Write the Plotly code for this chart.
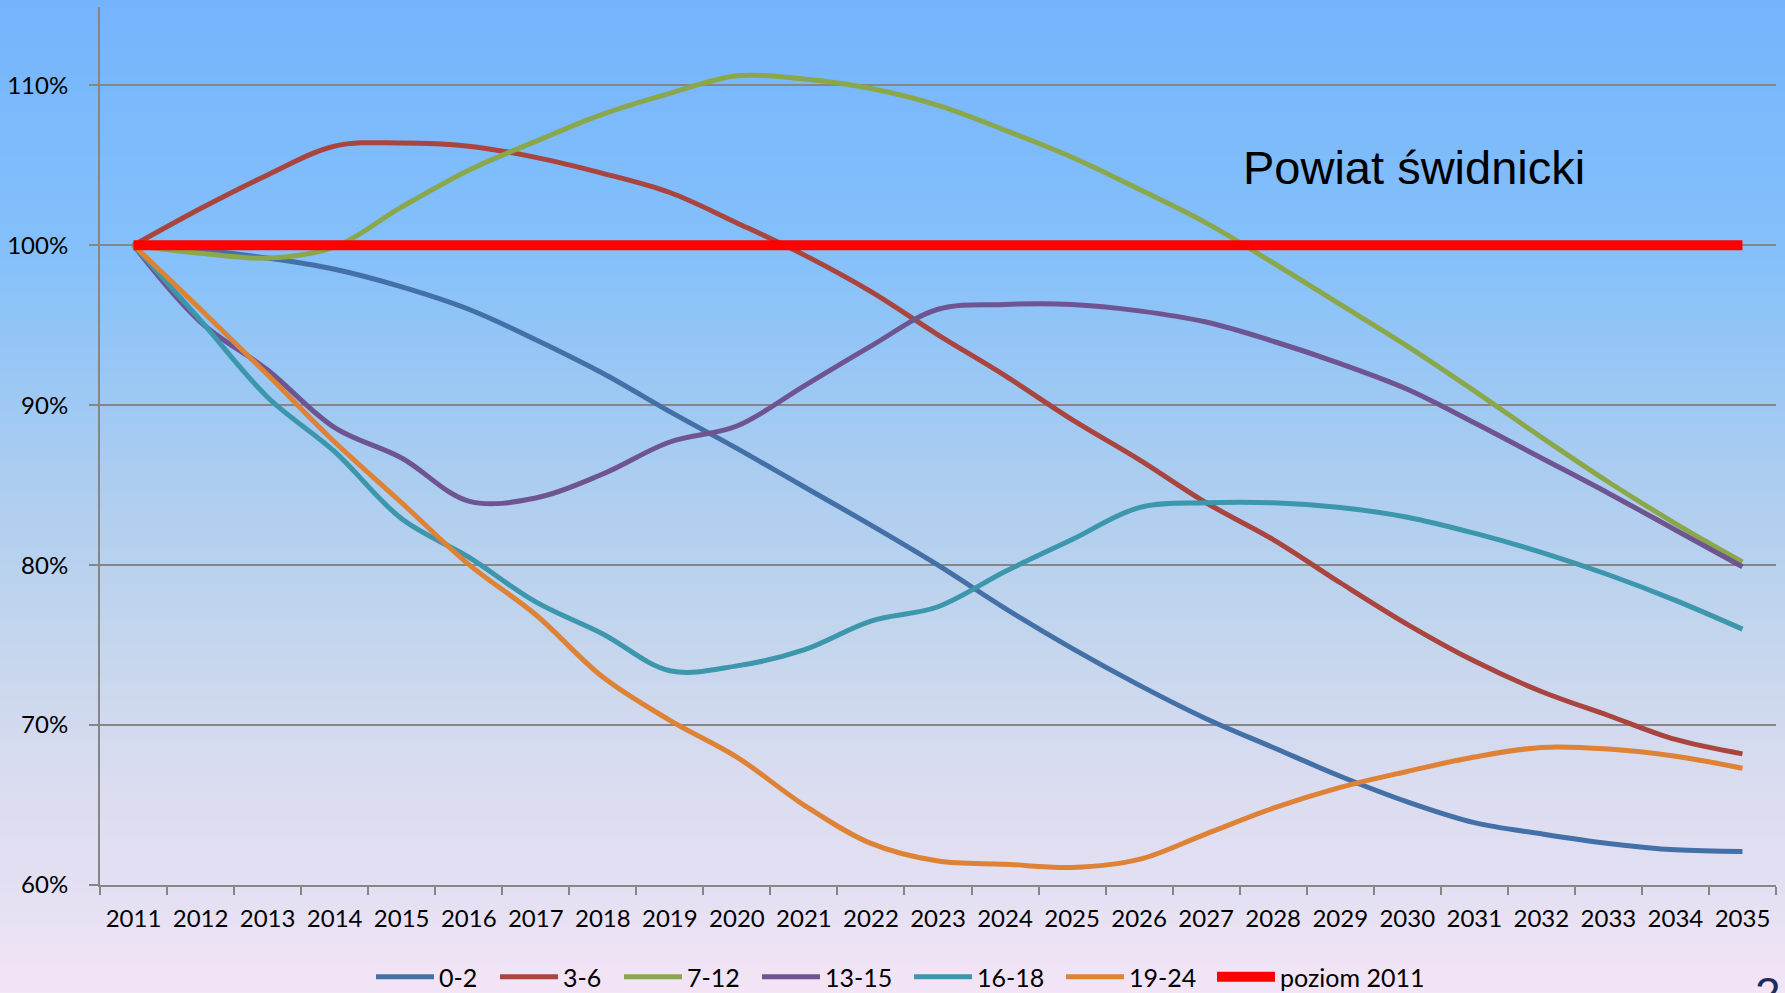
import plotly.graph_objects as go

years = [str(y) for y in range(2011, 2036)]

s_0_2 = [100, 99.7, 99.2, 98.5, 97.4, 96.0, 94.1, 92.0, 89.6, 87.3, 84.9, 82.5, 80.0,
         77.3, 74.8, 72.5, 70.4, 68.6, 66.8, 65.2, 63.9, 63.2, 62.6, 62.2, 62.1]
s_3_6 = [100, 102.3, 104.4, 106.2, 106.4, 106.2, 105.5, 104.5, 103.3, 101.4, 99.4, 97.1, 94.4,
         91.85, 89.1, 86.6, 83.9, 81.6, 78.9, 76.3, 74.0, 72.1, 70.6, 69.1, 68.2]
s_7_12 = [100, 99.5, 99.2, 99.9, 102.4, 104.7, 106.5, 108.2, 109.5, 110.6, 110.4, 109.8, 108.75,
          107.2, 105.5, 103.5, 101.4, 98.9, 96.3, 93.7, 90.9, 88.0, 85.2, 82.6, 80.2]
s_13_15 = [100, 95.2, 92.2, 88.6, 86.7, 84.0, 84.2, 85.7, 87.7, 88.7, 91.2, 93.7, 96.0,
           96.3, 96.3, 95.9, 95.2, 94.0, 92.6, 91.0, 88.9, 86.7, 84.5, 82.2, 79.9]
s_16_18 = [100, 95.3, 90.5, 87.1, 82.9, 80.5, 77.7, 75.7, 73.4, 73.7, 74.7, 76.5, 77.4,
           79.6, 81.6, 83.6, 83.9, 83.9, 83.6, 83.0, 82.0, 80.8, 79.4, 77.8, 76.0]
s_19_24 = [100, 96.0, 91.9, 87.7, 83.9, 80.05, 76.9, 73.0, 70.3, 68.0, 65.0, 62.6, 61.5,
           61.3, 61.1, 61.6, 63.2, 64.8, 66.1, 67.1, 68.0, 68.6, 68.5, 68.05, 67.3]
poziom_2011 = [100] * len(years)

series_names = ["0-2", "3-6", "7-12", "13-15", "16-18", "19-24", "poziom 2011"]
series_values = [s_0_2, s_3_6, s_7_12, s_13_15, s_16_18, s_19_24, poziom_2011]
series_colors = ["#4470A8", "#A9443F", "#8AA84B", "#6E5490", "#3C96AC", "#DE8236", "#FF0000"]
series_widths = [5, 5, 5, 5, 5, 5, 10]

y_ticks = [60, 70, 80, 90, 100, 110]
y_tick_labels = ["60%", "70%", "80%", "90%", "100%", "110%"]
title_text = "Powiat świdnicki"

W, H = 1785, 993
ML, MR, MT, MB = 96, 8.5, 7, 108.3
PW = W - ML - MR
PH = H - MT - MB

# left edge (px) of each legend entry's line sample, as in the reference
legend_starts = [377, 501, 625, 763, 915, 1067, 1218]

fig = go.Figure()
layout_legends = {}
for i, (name, vals, col, w) in enumerate(zip(series_names, series_values, series_colors, series_widths)):
    lg = "legend" if i == 0 else "legend%d" % (i + 1)
    fig.add_trace(go.Scatter(
        x=years, y=vals, name=name, mode="lines", legend=lg,
        line=dict(color=col, width=w, shape="spline", smoothing=1),
    ))
    layout_legends[lg] = dict(
        orientation="h", xref="container", yref="container",
        x=(legend_starts[i] - 6) / W, xanchor="left", y=0.016, yanchor="middle",
        font=dict(family="Lato", size=25, color="#000000"),
        bgcolor="rgba(0,0,0,0)", itemwidth=58, borderwidth=0,
    )

# background gradient (slide background)
stops = [(0, (117, 180, 253)), (250, (132, 192, 250)), (480, (172, 205, 240)),
         (650, (197, 214, 237)), (780, (218, 220, 240)), (900, (229, 224, 243)),
         (993, (243, 229, 246))]


def col_at(py):
    for (a, ca), (b, cb) in zip(stops[:-1], stops[1:]):
        if a <= py <= b:
            t = (py - a) / (b - a)
            return tuple(round(ca[i] + (cb[i] - ca[i]) * t) for i in range(3))
    return stops[-1][1]


shapes = []
n = 160
for k in range(n):
    py0 = H * k / n - (20 if k == 0 else 0)
    py1 = H * (k + 1) / n + 1 + (20 if k == n - 1 else 0)
    c = col_at((H * k / n + H * (k + 1) / n) / 2)
    shapes.append(dict(
        type="rect", xref="paper", yref="paper", layer="below",
        x0=-0.1, x1=1.1,
        y0=(H - MB - py1) / PH, y1=(H - MB - py0) / PH,
        fillcolor="rgb(%d,%d,%d)" % c, line=dict(width=0),
    ))

fig.update_layout(
    width=W, height=H,
    margin=dict(l=ML, r=MR, t=MT, b=MB),
    paper_bgcolor="#ACCDF0",
    plot_bgcolor="rgba(0,0,0,0)",
    font=dict(family="Lato", size=24, color="#000000"),
    shapes=shapes,
    showlegend=True,
    xaxis=dict(
        type="category", range=[-0.5, 24.5], tickson="boundaries",
        showgrid=False, showline=True, linecolor="#868686", linewidth=2,
        ticks="outside", ticklen=8, tickcolor="#868686", tickwidth=1.5,
        tickfont=dict(family="Lato", size=24, color="#000000"),
        ticklabelstandoff=11, zeroline=False,
    ),
    yaxis=dict(
        range=[60, 114.9], tickmode="array", tickvals=y_ticks, ticktext=y_tick_labels,
        showgrid=True, gridcolor="#868686", gridwidth=1.5,
        showline=True, linecolor="#868686", linewidth=2,
        ticks="outside", ticklen=9, tickcolor="#868686", tickwidth=1.5,
        tickfont=dict(family="Lato", size=24, color="#000000"),
        ticklabelstandoff=16, zeroline=False,
    ),
    annotations=[
        dict(text=title_text, xref="paper", yref="paper",
             x=(1413.4 - ML) / PW, y=(H - MB - 167) / PH,
             xanchor="center", yanchor="middle", showarrow=False,
             font=dict(family="Liberation Sans", size=47, color="#000000")),
        dict(text="2", xref="paper", yref="paper",
             x=(1768 - ML) / PW, y=(H - MB - 966) / PH,
             xanchor="center", yanchor="top", showarrow=False,
             font=dict(family="Liberation Sans", size=46, color="#1F2A60")),
    ],
    **layout_legends,
)

fig.write_html(
    "out.html",
    config={"displayModeBar": False},
    post_script="document.body.style.margin='0px';document.body.style.overflow='hidden';",
)
